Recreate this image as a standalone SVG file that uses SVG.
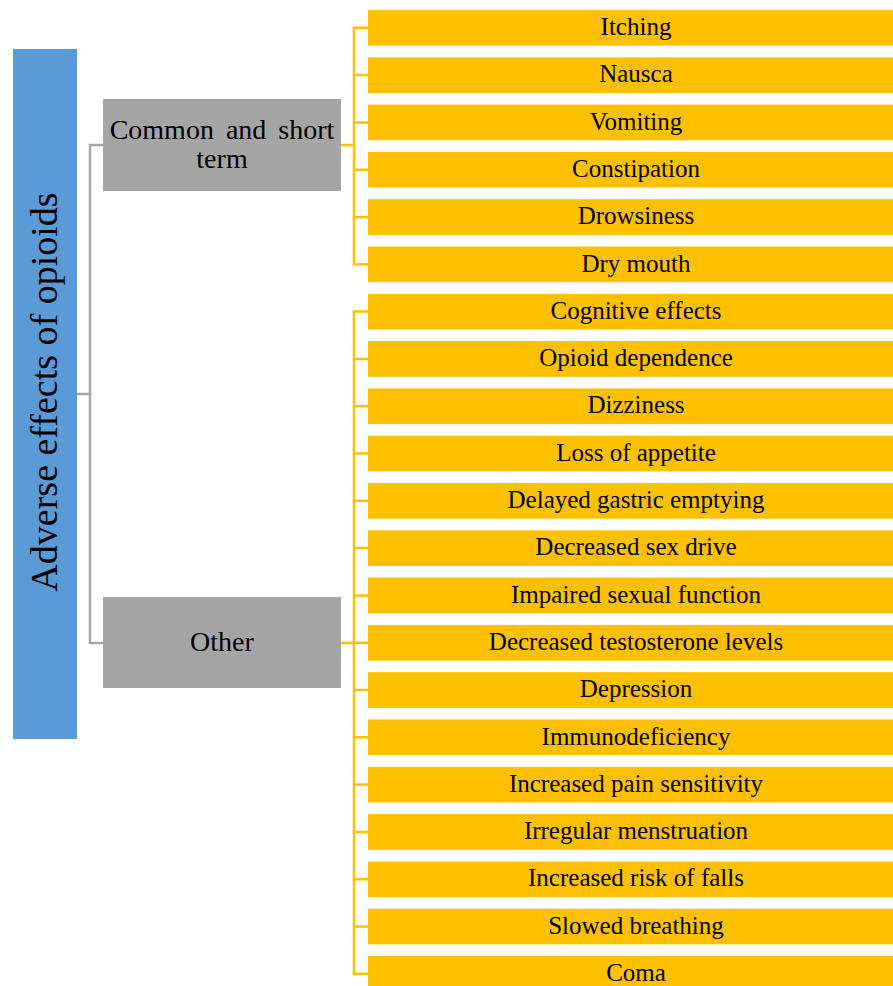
<svg xmlns="http://www.w3.org/2000/svg" width="893" height="986" viewBox="0 0 893 986">
  <style>
    .root { fill: #5b9bd5; }
    .cat { fill: #a5a5a5; }
    .item { fill: #ffc000; }
    text { font-family: "Liberation Serif", "Times New Roman", serif; fill: #000; text-anchor: middle; }
    .t-root { font-size: 38px; }
    .t-cat { font-size: 28px; }
    .t-item { font-size: 25px; }
    .gray-line { stroke: #a6a6a6; stroke-width: 2.5; fill: none; }
    .gold-line { stroke: #ffc000; stroke-width: 2.5; fill: none; }
  </style>
  <rect width="893" height="986" fill="#ffffff"/>

  <!-- connectors -->
  <g id="connectors">
    <path class="gray-line" d="M77,394 H90 M103,145 H90 V643 H103"/>
    <path class="gold-line" d="M341,145 H354 M368,27.8 H354 V264.3 H368 M354,75.1 H368 M354,122.4 H368 M354,169.7 H368 M354,217 H368"/>
    <path class="gold-line" d="M341,643 H354 M368,311.6 H354 V973.8 H368 M354,358.9 H368 M354,406.2 H368 M354,453.5 H368 M354,500.8 H368 M354,548.1 H368 M354,595.4 H368 M354,642.7 H368 M354,690 H368 M354,737.3 H368 M354,784.6 H368 M354,831.9 H368 M354,879.2 H368 M354,926.5 H368"/>
  </g>

  <!-- root -->
  <g id="root">
    <rect class="root" x="13" y="49" width="64" height="690"/>
    <text class="t-root" transform="translate(57,392) rotate(-90)">Adverse effects of opioids</text>
  </g>

  <!-- categories -->
  <g id="cat-common">
    <rect class="cat" x="103" y="99" width="238" height="92"/>
    <text class="t-cat" x="222" y="139" style="word-spacing:5px">Common and short</text>
    <text class="t-cat" x="222" y="168">term</text>
  </g>
  <g id="cat-other">
    <rect class="cat" x="103" y="597" width="238" height="91"/>
    <text class="t-cat" x="222" y="651">Other</text>
  </g>

  <!-- effects -->
  <g id="item-1"><rect class="item" x="368" y="10" width="536" height="35.7"/><text class="t-item" x="636" y="35">Itching</text></g>
  <g id="item-2"><rect class="item" x="368" y="57.3" width="536" height="35.7"/><text class="t-item" x="636" y="82.3">Nausca</text></g>
  <g id="item-3"><rect class="item" x="368" y="104.6" width="536" height="35.7"/><text class="t-item" x="636" y="129.6">Vomiting</text></g>
  <g id="item-4"><rect class="item" x="368" y="151.9" width="536" height="35.7"/><text class="t-item" x="636" y="176.9">Constipation</text></g>
  <g id="item-5"><rect class="item" x="368" y="199.2" width="536" height="35.7"/><text class="t-item" x="636" y="224.2">Drowsiness</text></g>
  <g id="item-6"><rect class="item" x="368" y="246.5" width="536" height="35.7"/><text class="t-item" x="636" y="271.5">Dry mouth</text></g>
  <g id="item-7"><rect class="item" x="368" y="293.8" width="536" height="35.7"/><text class="t-item" x="636" y="318.8">Cognitive effects</text></g>
  <g id="item-8"><rect class="item" x="368" y="341.1" width="536" height="35.7"/><text class="t-item" x="636" y="366.1">Opioid dependence</text></g>
  <g id="item-9"><rect class="item" x="368" y="388.4" width="536" height="35.7"/><text class="t-item" x="636" y="413.4">Dizziness</text></g>
  <g id="item-10"><rect class="item" x="368" y="435.7" width="536" height="35.7"/><text class="t-item" x="636" y="460.7">Loss of appetite</text></g>
  <g id="item-11"><rect class="item" x="368" y="483" width="536" height="35.7"/><text class="t-item" x="636" y="508">Delayed gastric emptying</text></g>
  <g id="item-12"><rect class="item" x="368" y="530.3" width="536" height="35.7"/><text class="t-item" x="636" y="555.3">Decreased sex drive</text></g>
  <g id="item-13"><rect class="item" x="368" y="577.6" width="536" height="35.7"/><text class="t-item" x="636" y="602.6">Impaired sexual function</text></g>
  <g id="item-14"><rect class="item" x="368" y="624.9" width="536" height="35.7"/><text class="t-item" x="636" y="649.9">Decreased testosterone levels</text></g>
  <g id="item-15"><rect class="item" x="368" y="672.2" width="536" height="35.7"/><text class="t-item" x="636" y="697.2">Depression</text></g>
  <g id="item-16"><rect class="item" x="368" y="719.5" width="536" height="35.7"/><text class="t-item" x="636" y="744.5">Immunodeficiency</text></g>
  <g id="item-17"><rect class="item" x="368" y="766.8" width="536" height="35.7"/><text class="t-item" x="636" y="791.8">Increased pain sensitivity</text></g>
  <g id="item-18"><rect class="item" x="368" y="814.1" width="536" height="35.7"/><text class="t-item" x="636" y="839.1">Irregular menstruation</text></g>
  <g id="item-19"><rect class="item" x="368" y="861.4" width="536" height="35.7"/><text class="t-item" x="636" y="886.4">Increased risk of falls</text></g>
  <g id="item-20"><rect class="item" x="368" y="908.7" width="536" height="35.7"/><text class="t-item" x="636" y="933.7">Slowed breathing</text></g>
  <g id="item-21"><rect class="item" x="368" y="956" width="536" height="35.7"/><text class="t-item" x="636" y="981">Coma</text></g>
</svg>
